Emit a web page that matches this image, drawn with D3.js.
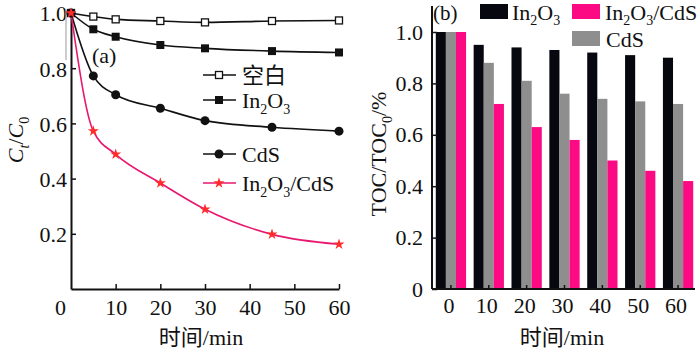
<!DOCTYPE html>
<html>
<head>
<meta charset="utf-8">
<script src="https://cdn.jsdelivr.net/npm/d3@7"></script>
<style>
  body { margin: 0; background: #fff; }
  text { font-family: "Liberation Serif", "Noto Sans CJK SC", serif; fill: #111; }
</style>
</head>
<body>
<script>
// ---------- data (a) ----------
const timesA = [0, 5, 10, 20, 30, 45, 60];
const blankA = [1.0, 0.987, 0.977, 0.971, 0.966, 0.971, 0.973];
const in2o3A = [1.0, 0.941, 0.914, 0.884, 0.872, 0.862, 0.857];
const cdsA = [1.0, 0.772, 0.704, 0.655, 0.610, 0.586, 0.572];
const compA = [1.0, 0.572, 0.488, 0.384, 0.289, 0.198, 0.162];
const seriesNamesA = ["空白", "In_2O_3", "CdS", "In_2O_3/CdS"];
const xTicksA = [0, 10, 20, 30, 40, 50, 60];
const yTicksA = [0.2, 0.4, 0.6, 0.8, 1.0];

// ---------- data (b) ----------
const categoriesB = ["0", "10", "20", "30", "40", "50", "60"];
const in2o3B = [1.0, 0.95, 0.94, 0.93, 0.92, 0.91, 0.90];
const cdsB = [1.0, 0.88, 0.81, 0.76, 0.74, 0.73, 0.72];
const compB = [1.0, 0.72, 0.63, 0.58, 0.50, 0.46, 0.42];
const seriesNamesB = ["In_2O_3", "CdS", "In_2O_3/CdS"];
const yTicksB = [0, 0.2, 0.4, 0.6, 0.8, 1.0];

const pinkBar = "#fb0a84";
const grayBar = "#8e8e8e";
const blackBar = "#07070f";
const pinkLine = "#e8176f";
const starRed = "#ff2b2b";

const svg = d3.select("body").append("svg")
  .attr("width", 700).attr("height", 350);

// text with "_x" subscripts
function rich(sel, str, subSize, off) {
  const parts = str.split(/(_.)/).filter(s => s);
  let down = false;
  parts.forEach(p => {
    if (p[0] === "_") {
      sel.append("tspan").attr("font-size", subSize).attr("dy", down ? 0 : off).text(p[1]);
      down = true;
    } else {
      sel.append("tspan").attr("dy", down ? -off : 0).text(p);
      down = false;
    }
  });
  return sel;
}

// ================== panel (a) ==================
const xA = d3.scaleLinear().domain([0, 60]).range([71, 339]);
const yA = d3.scaleLinear().domain([0, 1]).range([289, 13]);

const gA = svg.append("g");

// axes
const axA_x = gA.append("g").attr("transform", "translate(0,289)")
  .call(d3.axisBottom(xA).tickValues(xTicksA).tickSizeInner(-5).tickSizeOuter(0).tickPadding(10));
const axA_y = gA.append("g").attr("transform", "translate(71,0)")
  .call(d3.axisLeft(yA).tickValues(yTicksA).tickFormat(d3.format(".1f")).tickSizeInner(-5).tickSizeOuter(0).tickPadding(4));
[axA_x, axA_y].forEach(a => {
  a.select(".domain").attr("stroke", "#111").attr("stroke-width", 2);
  a.selectAll(".tick line").attr("stroke", "#111").attr("stroke-width", 1.5);
  a.selectAll(".tick text").attr("font-size", 22).attr("font-family", "Liberation Serif").attr("fill", "#111");
});
axA_x.selectAll(".tick").filter(d => d === 0).select("line").remove();
axA_x.selectAll(".tick").filter(d => d === 0).select("text").attr("dx", -11);
axA_y.selectAll(".tick text").attr("dy", "0.36em");

// faint gray line near the origin
gA.append("line").attr("x1", 66).attr("x2", 66).attr("y1", 10).attr("y2", 60)
  .attr("stroke", "#aaa").attr("stroke-width", 1.2);

const lineA = d3.line().x((d, i) => xA(timesA[i])).y(d => yA(d)).curve(d3.curveMonotoneX);
const seriesA = [blankA, in2o3A, cdsA, compA];
const colorsA = ["#111", "#111", "#111", pinkLine];
seriesA.forEach((s, k) => {
  gA.append("path").datum(s).attr("d", lineA)
    .attr("fill", "none").attr("stroke", colorsA[k]).attr("stroke-width", 1.6);
});

function marker(g, k, x, y) {
  if (k === 0) {
    g.append("rect").attr("x", x - 3.5).attr("y", y - 3.5).attr("width", 7).attr("height", 7)
      .attr("fill", "#fff").attr("stroke", "#111").attr("stroke-width", 1.3);
  } else if (k === 1) {
    g.append("rect").attr("x", x - 4).attr("y", y - 4).attr("width", 8).attr("height", 8).attr("fill", "#111");
  } else if (k === 2) {
    g.append("circle").attr("cx", x).attr("cy", y).attr("r", 4.5).attr("fill", "#111");
  } else {
    g.append("path").attr("d", d3.symbol(d3.symbolStar, 38)())
      .attr("transform", `translate(${x},${y})`).attr("fill", starRed);
  }
}
seriesA.forEach((s, k) => {
  s.forEach((v, i) => marker(gA, k, xA(timesA[i]), yA(v)));
});

// legend (a)
const legYA = [75, 100, 154, 183];
seriesNamesA.forEach((name, k) => {
  const y = legYA[k];
  gA.append("line").attr("x1", 203).attr("x2", 236).attr("y1", y).attr("y2", y)
    .attr("stroke", colorsA[k]).attr("stroke-width", 1.6);
  marker(gA, k, 219, y);
  rich(gA.append("text").attr("x", 242).attr("y", y + 8).attr("font-size", 22), name, 14, 6);
});

gA.append("text").attr("x", 92).attr("y", 63).attr("font-size", 22).text("(a)");

// y title (a)
const ytA = gA.append("text").attr("transform", "translate(23,140) rotate(-90)")
  .attr("text-anchor", "middle").attr("font-size", 22);
ytA.append("tspan").attr("font-style", "italic").text("C");
ytA.append("tspan").attr("font-style", "italic").attr("font-size", 14).attr("dy", 6).text("t");
ytA.append("tspan").attr("dy", -6).text("/");
ytA.append("tspan").attr("font-style", "italic").text("C");
ytA.append("tspan").attr("font-size", 14).attr("dy", 6).text("0");

gA.append("text").attr("x", 201).attr("y", 345).attr("text-anchor", "middle")
  .attr("font-size", 22).text("时间/min");

// ================== panel (b) ==================
const xB = d3.scaleBand().domain(categoriesB).range([432, 697]).paddingInner(0.2).paddingOuter(0.1);
const yB = d3.scaleLinear().domain([0, 1]).range([289, 32]);
const sub = d3.scaleBand().domain([0, 1, 2]).range([0, xB.bandwidth()]);

const gB = svg.append("g");
const seriesB = [in2o3B, cdsB, compB];
const colorsB = [blackBar, grayBar, pinkBar];

seriesB.forEach((s, k) => {
  gB.append("g").selectAll("rect").data(s).enter().append("rect")
    .attr("x", (d, i) => xB(categoriesB[i]) + sub(k))
    .attr("width", sub.bandwidth())
    .attr("y", d => yB(d))
    .attr("height", d => yB(0) - yB(d))
    .attr("fill", colorsB[k]);
});

const axB_x = gB.append("g").attr("transform", "translate(0,289)")
  .call(d3.axisBottom(xB).tickSizeInner(-4).tickSizeOuter(0).tickPadding(8));
const axB_y = gB.append("g").attr("transform", "translate(432,0)")
  .call(d3.axisLeft(yB).tickValues(yTicksB).tickFormat(d => d === 0 ? "0" : d.toFixed(1)).tickSizeInner(-5).tickSizeOuter(0).tickPadding(9));
axB_y.select(".domain").attr("d", `M0,${yB(0)}V6`);
axB_x.select(".domain").attr("d", "M432,0H695");
[axB_x, axB_y].forEach(a => {
  a.select(".domain").attr("stroke", "#111").attr("stroke-width", 2);
  a.selectAll(".tick line").attr("stroke", "#111").attr("stroke-width", 1.5);
  a.selectAll(".tick text").attr("font-size", 22).attr("font-family", "Liberation Serif").attr("fill", "#111");
});
axB_x.selectAll(".tick text").attr("dx", -2);

// legend (b)
const legB = [
  { x: 480, y: 4, c: blackBar, tx: 512 },
  { x: 572, y: 31, c: grayBar, tx: 606 },
  { x: 572, y: 4, c: pinkBar, tx: 605 }
];
seriesNamesB.forEach((name, k) => {
  const L = legB[k];
  gB.append("rect").attr("x", L.x).attr("y", L.y).attr("width", 28).attr("height", 15).attr("fill", L.c);
  rich(gB.append("text").attr("x", L.tx).attr("y", L.y + 16).attr("font-size", 22), name, 14, 5);
});

gB.append("text").attr("x", 433).attr("y", 20).attr("font-size", 21).text("(b)");

const ytB = gB.append("text").attr("transform", "translate(386,154) rotate(-90)")
  .attr("text-anchor", "middle").attr("font-size", 22);
rich(ytB, "TOC/TOC_0/%", 14, 6);

gB.append("text").attr("x", 562).attr("y", 345).attr("text-anchor", "middle")
  .attr("font-size", 22).text("时间/min");
</script>
</body>
</html>
